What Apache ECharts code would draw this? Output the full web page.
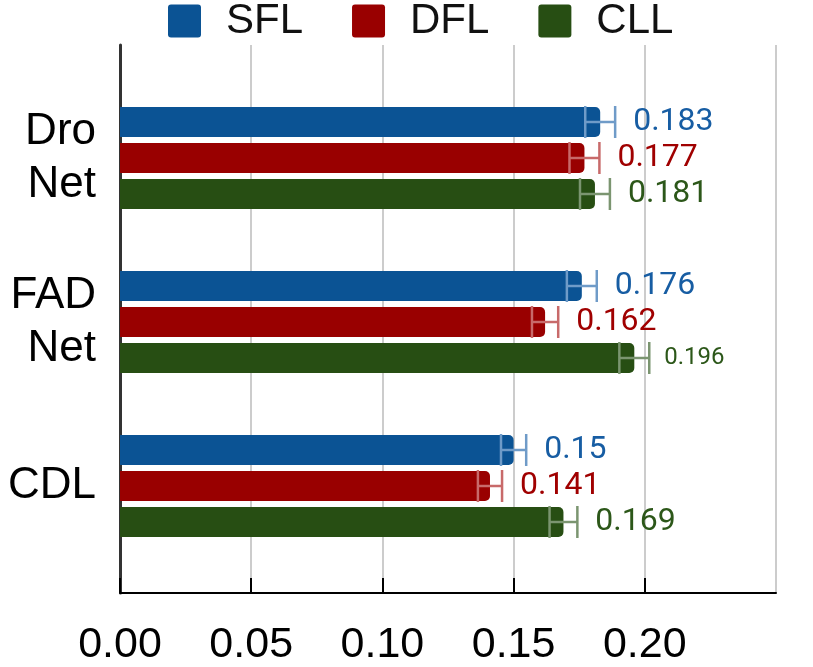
<!DOCTYPE html>
<html>
<head>
<meta charset="utf-8">
<script src="https://cdn.jsdelivr.net/npm/echarts@6/dist/echarts.min.js"></script>
<style>html,body{margin:0;padding:0;background:#fff}#c{width:813px;height:667px}</style>
</head>
<body>
<div id="c"></div>
<script>
// ---- data ----
const categories = ['Dro\nNet', 'FAD\nNet', 'CDL'];
const seriesNames = ['SFL', 'DFL', 'CLL'];
const sflValues = [0.183, 0.176, 0.150];
const dflValues = [0.177, 0.162, 0.141];
const cllValues = [0.181, 0.196, 0.169];
const sflErrors = [0.0057, 0.0057, 0.0048];
const dflErrors = [0.0057, 0.0050, 0.0046];
const cllErrors = [0.0057, 0.0057, 0.0053];
const sflLabels = ['0.183', '0.176', '0.15'];
const dflLabels = ['0.177', '0.162', '0.141'];
const cllLabels = ['0.181', '0.196', '0.169'];
const xTicks = [0, 0.05, 0.10, 0.15, 0.20, 0.25];

// ---- styles ----
const colors = ['#0b5394', '#990000', '#274e13'];
const errColors = ['#6f9bc8', '#c86a6a', '#7b9570'];
const labelColors = ['#175da3', '#a00000', '#2c5719'];
const BAR_H = 30, BAR_STEP = 36;

const values = [sflValues, dflValues, cllValues];
const errors = [sflErrors, dflErrors, cllErrors];
const labels = [sflLabels, dflLabels, cllLabels];

const chart = echarts.init(document.getElementById('c'), null, {renderer: 'canvas'});

const barSeries = seriesNames.map((name, i) => ({
  name: name,
  type: 'bar',
  xAxisIndex: 1,
  yAxisIndex: 1,
  barWidth: BAR_H,
  barGap: '20%',
  data: values[i],
  itemStyle: {color: colors[i], borderRadius: [0, 5, 5, 0]},
  z: 2
}));

const errSeries = seriesNames.map((name, i) => ({
  name: name + '_err',
  type: 'custom',
  xAxisIndex: 1,
  yAxisIndex: 1,
  z: 5,
  silent: true,
  data: values[i].map((v, k) => [v, k, errors[i][k]]),
  encode: {x: 0, y: 1},
  renderItem: function (params, api) {
    const v = api.value(0), k = api.value(1), e = api.value(2);
    const lbl = labels[i][k];
    const off = (i - 1) * BAR_STEP;
    const pL = api.coord([v - e, k]);
    const pR = api.coord([v + e, k]);
    const y = pL[1] + off;
    const half = BAR_H / 2 + 1;
    const small = (i === 2 && k === 1);
    const ls = {stroke: errColors[i], lineWidth: 2.5};
    return {
      type: 'group',
      children: [
        {type: 'line', shape: {x1: pL[0], y1: y, x2: pR[0], y2: y}, style: ls},
        {type: 'line', shape: {x1: pL[0], y1: y - half, x2: pL[0], y2: y + half}, style: ls},
        {type: 'line', shape: {x1: pR[0], y1: y - half, x2: pR[0], y2: y + half}, style: ls},
        {type: 'text', x: pR[0] + (small ? 15 : 18), y: y,
         style: {text: lbl, fill: labelColors[i], fontSize: small ? 24 : 32,
                 fontFamily: 'Roboto', align: 'left', verticalAlign: 'middle'}}
      ]
    };
  }
}));

chart.setOption({
  animation: false,
  backgroundColor: '#ffffff',
  legend: {
    data: seriesNames,
    left: 168,
    top: 0,
    padding: 0,
    icon: 'path://M3,0 H30 Q33,0 33,3 V30 Q33,33 30,33 H3 Q0,33 0,30 V3 Q0,0 3,0 Z',
    itemWidth: 33,
    itemHeight: 33,
    itemGap: 49,
    textStyle: {fontSize: 42, color: '#111', fontFamily: 'Liberation Sans', padding: [0, 0, 0, 20]}
  },
  grid: [
    {left: 120, right: 37, top: 45, bottom: 74, containLabel: false},
    {left: 120, right: 37, top: 76, bottom: 99, containLabel: false}
  ],
  xAxis: [
    {
      gridIndex: 0, type: 'value', min: xTicks[0], max: xTicks[xTicks.length - 1], interval: 0.05,
      axisLine: {show: true, lineStyle: {color: '#000', width: 2}},
      axisTick: {show: true, inside: true, length: 15, lineStyle: {color: '#000', width: 2}},
      splitLine: {show: true, lineStyle: {color: '#cccccc', width: 2}},
      axisLabel: {fontSize: 43, color: '#000', fontFamily: 'Liberation Sans', margin: 31,
                  showMaxLabel: false, formatter: v => v.toFixed(2)}
    },
    {
      gridIndex: 1, type: 'value', min: xTicks[0], max: xTicks[xTicks.length - 1], show: false
    }
  ],
  yAxis: [
    {
      gridIndex: 0, type: 'value', min: 0, max: 1,
      axisLine: {show: true, lineStyle: {color: '#333', width: 3}},
      axisTick: {show: false}, axisLabel: {show: false}, splitLine: {show: false}
    },
    {
      gridIndex: 1, type: 'category', data: categories, inverse: true,
      axisLine: {show: false}, axisTick: {show: false}, splitLine: {show: false},
      axisLabel: {fontSize: 44, color: '#000', fontFamily: 'Liberation Sans', lineHeight: 53, margin: 24, align: 'right'}
    }
  ],
  series: barSeries.concat(errSeries)
});
</script>
</body>
</html>
